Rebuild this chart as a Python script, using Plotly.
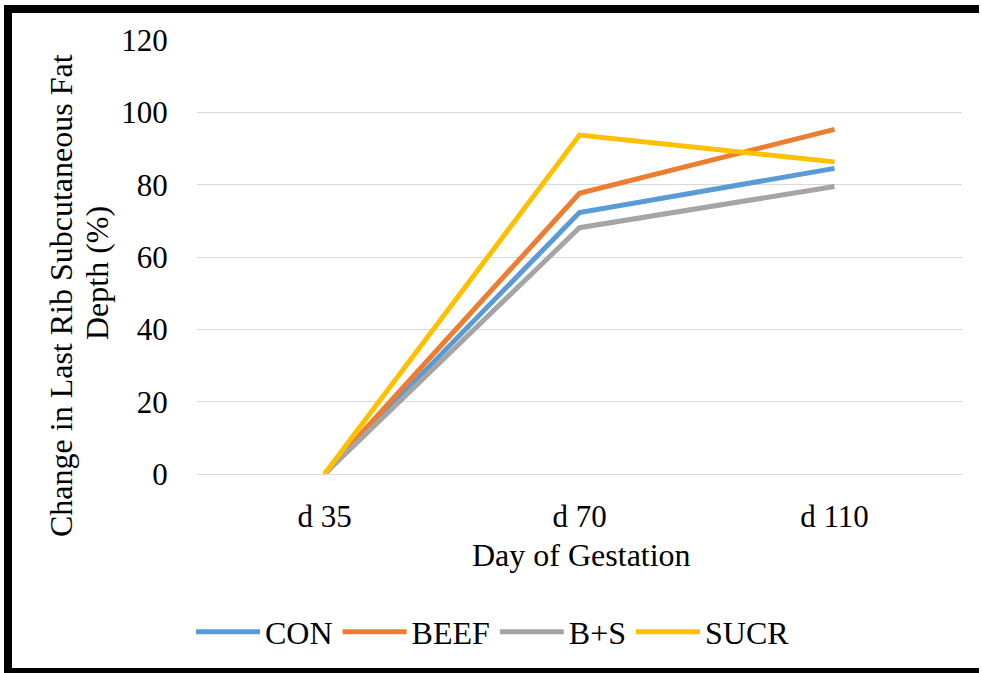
import plotly.graph_objects as go

days = ["d 35", "d 70", "d 110"]
con = [0, 72.3, 84.5]
beef = [0, 77.6, 95.3]
bs = [0, 68.1, 79.5]
sucr = [0, 93.7, 86.3]
series_names = ["CON", "BEEF", "B+S", "SUCR"]
series_colors = ["#5B9BD5", "#ED7D31", "#A5A5A5", "#FFC000"]
y_ticks = [0, 20, 40, 60, 80, 100, 120]
y_title_lines = ["Change in Last Rib Subcutaneous Fat", "Depth (%)"]
x_title = "Day of Gestation"

W, H = 982, 673
L, R, T, B = 197, 20, 40, 199
pw, ph = W - L - R, H - T - B

def px(x):
    return (x - L) / pw

def py(y):
    return (H - B - y) / ph

FONT = "Liberation Serif"

fig = go.Figure()
for name, vals, col in zip(series_names, [con, beef, bs, sucr], series_colors):
    fig.add_trace(go.Scatter(x=days, y=vals, name=name, mode="lines",
                             line=dict(color=col, width=5)))

def hline(x0, x1, y):
    return dict(type="line", xref="paper", yref="paper", x0=px(x0), x1=px(x1), y0=py(y), y1=py(y),
                line=dict(color="black", width=8), layer="above")

def vline(x, y0, y1):
    return dict(type="line", xref="paper", yref="paper", x0=px(x), x1=px(x), y0=py(y0), y1=py(y1),
                line=dict(color="black", width=8), layer="above")

fig.update_layout(
    width=W, height=H,
    margin=dict(l=L, r=R, t=T, b=B),
    paper_bgcolor="white", plot_bgcolor="white",
    font=dict(family=FONT, size=31, color="black"),
    showlegend=True,
    legend=dict(orientation="h", x=px(493), xanchor="center", y=py(632), yanchor="middle",
                font=dict(family=FONT, size=32), itemwidth=64, tracegroupgap=0),
    xaxis=dict(type="category", range=[-0.5, 2.5], showgrid=False, showline=False,
               ticks="outside", ticklen=15, tickcolor="rgba(0,0,0,0)",
               tickfont=dict(family=FONT, size=31), zeroline=False),
    yaxis=dict(range=[0, 120], tickvals=y_ticks, showgrid=True, gridcolor="#d9d9d9",
               gridwidth=1.3, zeroline=True, zerolinecolor="#d9d9d9", zerolinewidth=1.3,
               ticks="outside", ticklen=22, tickcolor="rgba(0,0,0,0)",
               tickfont=dict(family=FONT, size=31), showline=False),
    annotations=[
        dict(text=x_title, xref="paper", yref="paper", x=px(581), y=py(555),
             xanchor="center", yanchor="middle", showarrow=False,
             font=dict(family=FONT, size=32)),
        dict(text=y_title_lines[0], xref="paper", yref="paper",
             x=px(61), y=py(296), xanchor="center", yanchor="middle", textangle=-90,
             showarrow=False, font=dict(family=FONT, size=32)),
        dict(text=y_title_lines[1], xref="paper", yref="paper",
             x=px(97), y=py(273), xanchor="center", yanchor="middle", textangle=-90,
             showarrow=False, font=dict(family=FONT, size=32)),
    ],
    shapes=[
        hline(4, 979, 9),
        vline(8, 5, 673),
        hline(4, 979, 672),
    ],
)

fig.write_html("out.html")
